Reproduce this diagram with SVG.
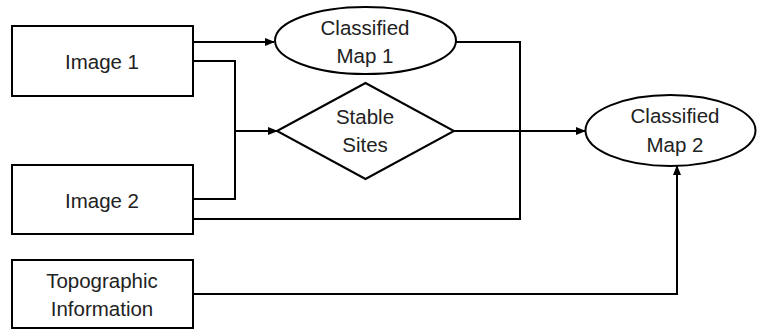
<svg xmlns="http://www.w3.org/2000/svg" width="757" height="330" viewBox="0 0 757 330">
<style>
.box{fill:#fff;stroke:#000;stroke-width:2}
.lbl{font-family:"Liberation Sans",Arial,sans-serif;font-size:20.5px;fill:#222;text-anchor:middle}
.con{fill:none;stroke:#000;stroke-width:2}
</style>
<defs>
<marker id="arr" markerWidth="10" markerHeight="8" refX="9" refY="4" orient="auto" markerUnits="userSpaceOnUse">
<path d="M0,0 L10,4 L0,8 Z" fill="#000"/>
</marker>
</defs>
<rect width="757" height="330" fill="#fff"/>
<g id="connectors">
<path class="con" d="M193,42 H274" marker-end="url(#arr)"/>
<path class="con" d="M193,61 H235 V199 H193"/>
<path class="con" d="M235,131 H277" marker-end="url(#arr)"/>
<path class="con" d="M193,219 H520 V42 H456"/>
<path class="con" d="M454,131 H585" marker-end="url(#arr)"/>
<path class="con" d="M193,294 H677 V166" marker-end="url(#arr)"/>
</g>
<g id="image1">
<rect class="box" x="12" y="26" width="181" height="70"/>
<text class="lbl" x="102" y="69">Image 1</text>
</g>
<g id="image2">
<rect class="box" x="12" y="165" width="181" height="69"/>
<text class="lbl" x="102" y="208">Image 2</text>
</g>
<g id="topo">
<rect class="box" x="12" y="260" width="181" height="68"/>
<text class="lbl" x="102" y="288">Topographic</text>
<text class="lbl" x="102" y="316">Information</text>
</g>
<g id="classified1">
<ellipse class="box" cx="365.5" cy="40.5" rx="90.5" ry="33.5"/>
<text class="lbl" x="365" y="35">Classified</text>
<text class="lbl" x="365" y="63">Map 1</text>
</g>
<g id="stable">
<polygon class="box" points="277,131 365.5,83 454,131 365.5,179"/>
<text class="lbl" x="365" y="124">Stable</text>
<text class="lbl" x="365" y="152">Sites</text>
</g>
<g id="classified2">
<ellipse class="box" cx="670.5" cy="130.5" rx="85" ry="35.5"/>
<text class="lbl" x="675" y="123">Classified</text>
<text class="lbl" x="675" y="152">Map 2</text>
</g>
</svg>
